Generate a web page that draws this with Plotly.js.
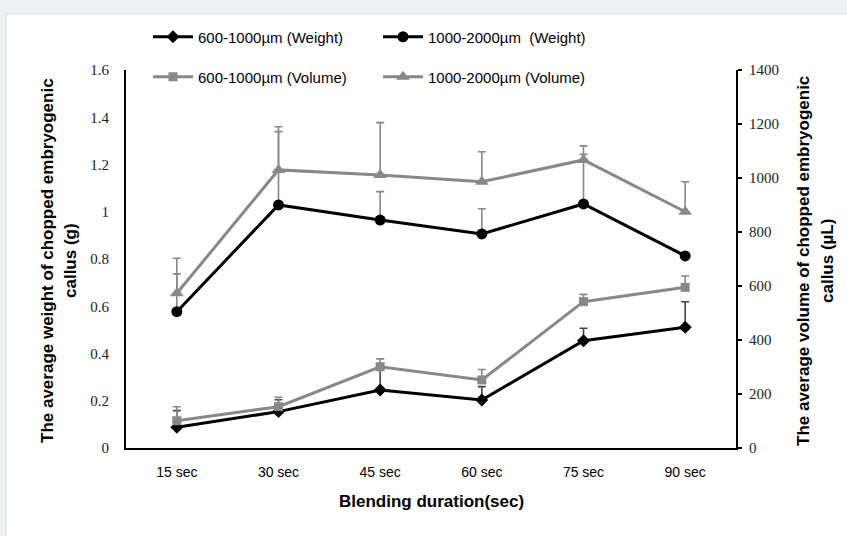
<!DOCTYPE html>
<html>
<head>
<meta charset="utf-8">
<script src="https://cdn.plot.ly/plotly-3.0.1.min.js"></script>
<style>
html,body{margin:0;padding:0;background:#eef0f2;}
#chart{width:847px;height:536px;}
</style>
</head>
<body>
<div id="chart"></div>
<script>
// ---- data ----
const categories = ['15 sec','30 sec','45 sec','60 sec','75 sec','90 sec'];
const weight600 = [0.088, 0.154, 0.245, 0.203, 0.454, 0.511];
const weight600Err = [0.07, 0.05, 0.10, 0.057, 0.053, 0.108];
const weight1000 = [0.577, 1.029, 0.965, 0.906, 1.033, 0.813];
const weight1000Err = [0.16, 0.31, 0.12, 0.107, 0.21, 0];
const volume600 = [101, 153, 301, 252, 542, 595];
const volume600Err = [52, 35, 29, 39, 27, 42];
const volume1000 = [573, 1030, 1011, 986, 1067, 875];
const volume1000Err = [130, 160, 194, 111, 52, 111];
const seriesNames = ['600-1000\u00b5m (Weight)', '1000-2000\u00b5m  (Weight)', '600-1000\u00b5m (Volume)', '1000-2000\u00b5m (Volume)'];

const BLACK = '#000000';
const GRAY = '#888888';
const zeros = n => new Array(n).fill(0);

function err(arr, color) {
  return {type: 'data', symmetric: false, array: arr, arrayminus: zeros(arr.length),
          color: color, thickness: 1.6, width: 4};
}

const traces = [
  {x: categories, y: weight600, name: seriesNames[0], type: 'scatter', mode: 'lines+markers',
   line: {color: BLACK, width: 3}, marker: {symbol: 'diamond', size: 10, color: BLACK},
   error_y: err(weight600Err, '#444444'), yaxis: 'y', legend: 'legend'},
  {x: categories, y: weight1000, name: seriesNames[1], type: 'scatter', mode: 'lines+markers',
   line: {color: BLACK, width: 3}, marker: {symbol: 'circle', size: 11, color: BLACK},
   error_y: err(weight1000Err, GRAY), yaxis: 'y', legend: 'legend'},
  {x: categories, y: volume600, name: seriesNames[2], type: 'scatter', mode: 'lines+markers',
   line: {color: GRAY, width: 3}, marker: {symbol: 'square', size: 9, color: GRAY},
   error_y: err(volume600Err, GRAY), yaxis: 'y2', legend: 'legend2'},
  {x: categories, y: volume1000, name: seriesNames[3], type: 'scatter', mode: 'lines+markers',
   line: {color: GRAY, width: 3}, marker: {symbol: 'triangle-up', size: 12, color: GRAY},
   error_y: err(volume1000Err, GRAY), yaxis: 'y2', legend: 'legend2'}
];

const L = 126, R = 111, T = 70, B = 88, W = 847, H = 536;
const pw = W - L - R, ph = H - T - B;
const px = v => (v - L) / pw;
const py = v => (H - B - v) / ph;

const tickFont = {family: "'Liberation Serif', 'DejaVu Serif', serif", size: 15, color: '#222'};
const titleFont = {family: "'Liberation Sans', sans-serif", size: 17, color: '#000', weight: 700};
const legendFont = {family: "'Liberation Sans', sans-serif", size: 15, color: '#000'};

const layout = {
  width: W, height: H,
  margin: {l: L, r: R, t: T, b: B},
  paper_bgcolor: '#eef0f2',
  plot_bgcolor: '#ffffff',
  showlegend: true,
  xaxis: {type: 'category', range: [-0.5, 5.5], showline: true, linecolor: '#000', linewidth: 2,
          ticks: '', showgrid: false, zeroline: false,
          tickfont: {family: "'Liberation Sans', sans-serif", size: 14, color: '#000'},
          ticklabelstandoff: 10, fixedrange: true},
  yaxis: {range: [0, 1.6], dtick: 0.2, showline: true, linecolor: '#000', linewidth: 2,
          ticks: '', showgrid: false, zeroline: false, tickfont: tickFont, ticklabelstandoff: 12},
  yaxis2: {range: [0, 1400], dtick: 200, overlaying: 'y', side: 'right', showline: true,
           linecolor: '#000', linewidth: 2, ticks: 'outside', ticklen: 4, tickwidth: 2, tickcolor: '#000',
           showgrid: false, zeroline: false, tickfont: tickFont, ticklabelstandoff: 4},
  legend: {orientation: 'h', x: px(148), xanchor: 'left', y: py(37), yanchor: 'middle',
           bgcolor: 'rgba(0,0,0,0)', font: legendFont, entrywidth: 175, entrywidthmode: 'pixels',
           itemwidth: 40, tracegroupgap: 0},
  legend2: {orientation: 'h', x: px(148), xanchor: 'left', y: py(77), yanchor: 'middle',
           bgcolor: 'rgba(0,0,0,0)', font: legendFont, entrywidth: 175, entrywidthmode: 'pixels',
           itemwidth: 40, tracegroupgap: 0},
  shapes: [
    {type: 'rect', xref: 'paper', yref: 'paper', layer: 'below',
     x0: px(6), x1: px(860), y0: py(560), y1: py(14),
     fillcolor: '#ffffff', line: {color: '#d8dbdf', width: 1}}
  ],
  annotations: [
    {text: 'The average weight of chopped embryogenic', xref: 'paper', yref: 'paper',
     x: px(47), y: py(261), textangle: -90, showarrow: false, font: titleFont, xanchor: 'center', yanchor: 'middle'},
    {text: 'callus (g)', xref: 'paper', yref: 'paper',
     x: px(70), y: py(261), textangle: -90, showarrow: false, font: titleFont, xanchor: 'center', yanchor: 'middle'},
    {text: 'The average volume of chopped embryogenic', xref: 'paper', yref: 'paper',
     x: px(803), y: py(261), textangle: -90, showarrow: false, font: titleFont, xanchor: 'center', yanchor: 'middle'},
    {text: 'callus (\u00b5L)', xref: 'paper', yref: 'paper',
     x: px(827), y: py(261), textangle: -90, showarrow: false, font: titleFont, xanchor: 'center', yanchor: 'middle'},
    {text: 'Blending duration(sec)', xref: 'paper', yref: 'paper',
     x: px(431), y: py(501), showarrow: false, font: titleFont, xanchor: 'center', yanchor: 'middle'}
  ]
};

Plotly.newPlot('chart', traces, layout, {displayModeBar: false, staticPlot: true});
</script>
</body>
</html>
